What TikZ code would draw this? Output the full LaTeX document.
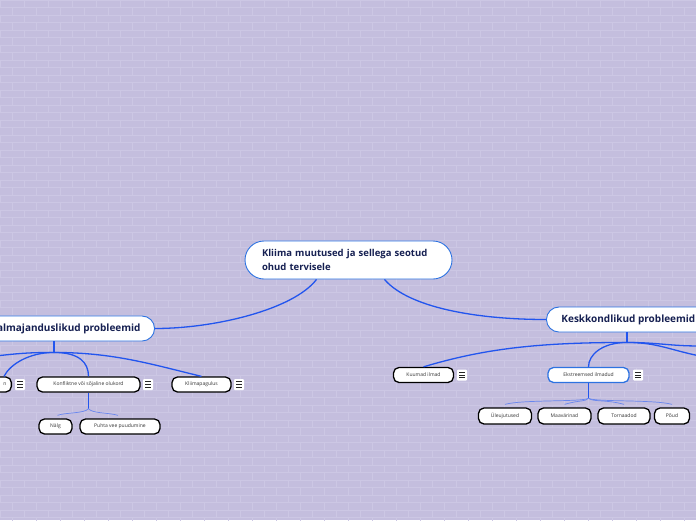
\documentclass[tikz,border=0pt]{standalone}
\usepackage{fontspec}
\setmainfont{Open Sans}
\usetikzlibrary{calc}
\definecolor{bg}{RGB}{196,190,222}
\definecolor{brick}{RGB}{204,199,228}
\definecolor{mainline}{RGB}{34,85,238}
\definecolor{subline}{RGB}{105,135,238}
\definecolor{navy}{RGB}{22,32,82}
\definecolor{nodeblue}{RGB}{45,115,225}
\definecolor{childtext}{RGB}{50,50,50}
\tikzset{
  centerbox/.style={draw=nodeblue, line width=0.9pt, fill=white, rounded corners=19pt,
     minimum height=38pt, text width=173pt, inner xsep=17pt, align=left,
     font=\fontsize{9.5}{13.5}\selectfont\bfseries, text=navy},
  mainbox/.style={draw=nodeblue, line width=0.9pt, fill=white, rounded corners=12.5pt,
     minimum height=25pt, inner xsep=14pt, font=\fontsize{10}{12}\selectfont\bfseries, text=navy},
  childbox/.style={draw=black, line width=1.3pt, fill=white, rounded corners=5.5pt,
     minimum height=15pt, inner xsep=0pt, inner ysep=0pt, font=\fontsize{5}{6}\selectfont, text=childtext},
  menuicon/.style={fill=white, rounded corners=1pt, minimum width=10pt, minimum height=11pt,
     inner sep=0pt, path picture={
       \foreach \k in {-2.8,0,2.8}{
         \draw[black!85, line width=0.8pt]
           ($(path picture bounding box.center)+(-3,\k)$) -- ($(path picture bounding box.center)+(3,\k)$);}
     }},
  mline/.style={mainline, line width=1.3pt},
  sline/.style={subline, line width=0.7pt},
}
\begin{document}
\begin{tikzpicture}[x=1pt,y=-1pt]
\useasboundingbox (0,0) rectangle (696,520);
\clip (0,0) rectangle (696,520);
\fill[bg] (0,0) rectangle (696,520);
% brick pattern
\foreach \r in {0,...,69}{
  \pgfmathsetmacro{\yy}{\r*7.5}
  \draw[brick, line width=0.5pt] (0,\yy) -- (696,\yy);
  \pgfmathsetmacro{\off}{mod(\r,2)*12}
  \foreach \c in {0,...,29}{
    \draw[brick, line width=0.5pt] (\c*24+\off,\yy) -- (\c*24+\off,\yy+7.5);
  }
}

% main nodes
\node[centerbox] (center) at (348.5,260) {Kliima muutused ja sellega seotud\\ohud tervisele};
\node[mainbox, anchor=east] (socio) at (155,328.5) {Sotsiaalmajanduslikud probleemid};
\node[mainbox, anchor=west, inner xsep=15pt] (env) at (546,319.5) {Keskkondlikud probleemid};

% left children
\node[childbox, anchor=east, text width=45pt, align=right, inner xsep=5pt, minimum height=15pt] (cut) at (12,384.5) {n};
\node[menuicon] (m0) at (20,384.5) {};
\node[childbox, minimum width=103pt] (konf) at (88.5,384.5) {Konfliktne või sõjaline olukord};
\node[menuicon] (m1) at (148,384.5) {};
\node[childbox, minimum width=59pt] (kliima) at (201.5,384.5) {Kliimapagulus};
\node[menuicon] (m2) at (239,384.5) {};
\node[childbox, minimum width=33pt] (nalg) at (55.5,426.5) {Nälg};
\node[childbox, minimum width=80pt] (puhta) at (120,426.5) {Puhta vee puudumine};

% right children
\node[childbox, minimum width=60pt] (kuum) at (423.5,375) {Kuumad ilmad};
\node[menuicon] (m3) at (462,375) {};
\node[childbox, minimum width=81pt, draw=nodeblue] (ekst) at (588.5,375) {Ekstreemsed ilmadud};
\node[menuicon] (m4) at (638,375) {};
\node[childbox, minimum width=53pt, minimum height=16pt] (ule) at (505,416) {Üleujutused};
\node[childbox, minimum width=53pt, minimum height=16pt] (maa) at (564.5,416) {Maavärinad};
\node[childbox, minimum width=52pt, minimum height=16pt] (torn) at (624,416) {Tornaadod};
\node[childbox, minimum width=35pt, minimum height=16pt] (poud) at (672,416) {Põud};

% junction coordinates
\coordinate (jl) at ($(socio.south east)+(-101,11)$);
\coordinate (jr) at ($(env.south west)+(81,10)$);
\coordinate (jk) at ($(konf.south)+(0,16)$);
\coordinate (je) at ($(ekst.south)+(0,15)$);
\coordinate (offl1) at (-5,356);
\coordinate (offr1) at (700,346);
\coordinate (offr2) at (700,356);

% connectors center -> main
\draw[mline] ($(center.south)+(-32,0)$) .. controls ($(center.south)+(-55,30)$) and ($(socio.east)+(60,0)$) .. (socio.east);
\draw[mline] ($(center.south)+(36,0)$) .. controls ($(center.south)+(60,28)$) and ($(env.west)+(-70,0)$) .. (env.west);

% left branch
\draw[mline] (socio.south east -| jl) -- (jl);
\draw[mline] (jl) .. controls ($(jl)+(-30,0)$) and ($(offl1)+(20,-2)$) .. (offl1);
\draw[mline] (jl) .. controls ($(jl)+(-25,0)$) and ($(cut.north east)+(-2,-12)$) .. ($(cut.north east)+(-8,0)$);
\draw[mline] (jl) .. controls ($(jl)+(25,0)$) and ($(konf.north)+(0,-14)$) .. (konf.north);
\draw[mline] (jl) .. controls ($(jl)+(60,0)$) and ($(kliima.north)+(-50,-12)$) .. (kliima.north);

\draw[mline] (konf.south) -- (jk);
\draw[sline] (jk) .. controls ($(jk)+(-4,5)$) and ($(nalg.north)+(10,-6)$) .. ($(nalg.north)+(2,-3)$);
\draw[sline] (jk) .. controls ($(jk)+(4,5)$) and ($(puhta.north)+(-12,-6)$) .. ($(puhta.north)+(-2,-3)$);

% right branch
\draw[mline] (env.south west -| jr) -- (jr);
\draw[mline] (jr) .. controls ($(jr)+(-90,0)$) and ($(kuum.north)+(60,-18)$) .. (kuum.north);
\draw[mline] (jr) .. controls ($(jr)+(-25,0)$) and ($(ekst.north)+(0,-12)$) .. (ekst.north);
\draw[mline] (jr) .. controls ($(jr)+(30,0)$) and ($(offr1)+(-30,0)$) .. (offr1);
\draw[mline] (jr) .. controls ($(jr)+(30,0)$) and ($(offr2)+(-30,-6)$) .. (offr2);

\draw[mline] (ekst.south) -- (je);
\foreach \t/\d in {ule/1, maa/1, torn/-1, poud/-1}{
  \draw[sline] (je) .. controls ($(je)+(-4*\d,4)$) and ($(\t.north)+(\d*18,-8)$) .. ($(\t.north)+(0,-3)$);
}
\end{tikzpicture}
\end{document}
